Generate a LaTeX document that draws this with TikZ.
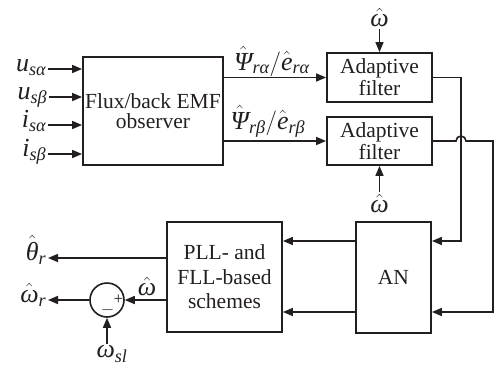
\documentclass[tikz,border=0pt]{standalone}
\usepackage{amsmath}
\usepackage{fontspec}
\setmainfont{Liberation Serif}
\usetikzlibrary{arrows.meta,calc}
\definecolor{ink}{HTML}{231F20}
\newcommand{\tv}[1]{\text{\itshape #1}}
\begin{document}
\begin{tikzpicture}[x=1pt,y=-1pt,
  line width=1.6pt, color=ink,
  every node/.style={inner sep=1pt, text=ink},
  lbl/.style={font=\fontsize{26}{28}\selectfont},
  blk/.style={draw=ink, line width=1.8pt, align=center, inner sep=0pt},
  arr/.style={-{Triangle[length=10pt,width=8pt]}},
  pm/.style={font=\fontsize{17}{17}\selectfont, inner sep=0pt}
]
\useasboundingbox (0,0) rectangle (499,368);

% blocks
\node[blk, minimum width=140pt, minimum height=108pt, font=\fontsize{21.5}{19.5}\selectfont] (obs) at (153,111) {Flux/back EMF\\observer};
\node[blk, minimum width=105pt, minimum height=49pt, font=\fontsize{21.5}{22}\selectfont] (f1) at (379.5,77.5) {Adaptive\\filter};
\node[blk, minimum width=105pt, minimum height=48pt, font=\fontsize{21.5}{22}\selectfont] (f2) at (379.5,141) {Adaptive\\filter};
\node[blk, minimum width=75pt, minimum height=111pt, font=\fontsize{21.5}{24}\selectfont] (an) at (393.5,277.5) {AN};
\node[blk, minimum width=115pt, minimum height=110pt, font=\fontsize{21.5}{24.5}\selectfont] (pll) at (224.5,277) {PLL- and\\FLL-based\\schemes};
\node[draw=ink, circle, minimum size=34pt, inner sep=0pt, line width=1.6pt] (sum) at (107,300) {};
\node[pm] (plus) at (118.5,299.5) {+};
\node[pm] (minus) at (107.5,310.5) {$-$};

% inputs
\node[lbl, anchor=mid east] (u1) at (48,69) {$\tv{u}_{\tv{sα}}$};
\node[lbl, anchor=mid east] (u2) at (49,97) {$\tv{u}_{\tv{sβ}}$};
\node[lbl, anchor=mid east] (i1) at (48,125) {$\tv{i}_{\tv{sα}}$};
\node[lbl, anchor=mid east] (i2) at (48,154) {$\tv{i}_{\tv{sβ}}$};
\draw[arr] (u1.mid east) -- (u1.mid east -| obs.west);
\draw[arr] (u2.mid east) -- (u2.mid east -| obs.west);
\draw[arr] (i1.mid east) -- (i1.mid east -| obs.west);
\draw[arr] (i2.mid east) -- (i2.mid east -| obs.west);

% observer to filters
\draw[arr] (obs.east |- f1.west) -- (f1.west);
\draw[arr] (obs.east |- f2.west) -- (f2.west);
\node[lbl, anchor=south] (psa) at (272,78) {$\hat{\tv{Ψ}}_{\tv{rα}}/\hat{\tv{e}}_{\tv{rα}}$};
\node[lbl, anchor=south] (psb) at (268,139) {$\hat{\tv{Ψ}}_{\tv{rβ}}/\hat{\tv{e}}_{\tv{rβ}}$};

% omega hat into filters
\node[lbl, anchor=south] (wt) at (379.5,29) {$\hat{\tv{ω}}$};
\draw[arr] (wt.south) -- (f1.north);
\node[lbl, anchor=north] (wb) at (379.5,192) {$\hat{\tv{ω}}$};
\draw[arr] (wb.north) -- (f2.south);

% filters to AN
\coordinate (c1) at (461,241);
\coordinate (c2) at (493,312);
\draw[arr] (f1.east) -| (c1) -- (c1 -| an.east);
\draw[arr] (f2.east) -- ($(f2.east -| c1)+(-5,0)$) arc[start angle=180, end angle=0, radius=5pt] -| (c2) -- (c2 -| an.east);

% AN to PLL
\draw[arr] (an.west |- c1) -- (pll.east |- c1);
\draw[arr] (an.west |- c2) -- (pll.east |- c2);

% outputs
\node[lbl, anchor=mid east] (th) at (48,258) {$\hat{\tv{θ}}_{\tv{r}}$};
\draw[arr] (pll.west |- th.mid east) -- (th.mid east);
\draw[arr] (pll.west |- sum.east) -- (sum.east);
\node[lbl, anchor=south] (wh) at (147,298) {$\hat{\tv{ω}}$};
\node[lbl, anchor=mid east] (wr) at (48,300) {$\hat{\tv{ω}}_{\tv{r}}$};
\draw[arr] (sum.west) -- (sum.west -| wr.east);
\node[lbl, anchor=north] (wsl) at (112,344) {$\tv{ω}_{\tv{sl}}$};
\draw[arr] (sum.south |- wsl.north) -- (sum.south);
\end{tikzpicture}
\end{document}
